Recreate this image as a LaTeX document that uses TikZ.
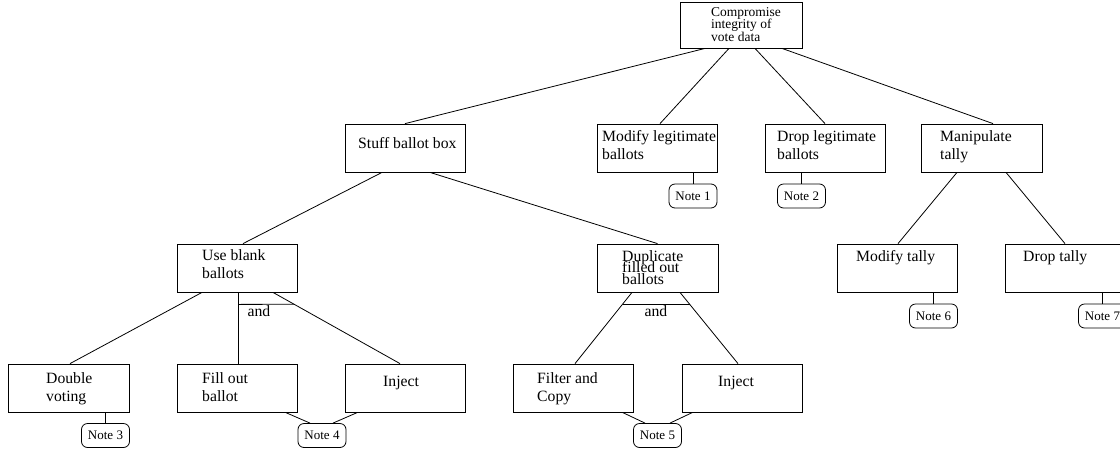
\documentclass[tikz,border=0pt]{standalone}
\usepackage{fontspec}
\setmainfont{Liberation Serif}
\usetikzlibrary{calc}
\AtBeginDocument{\lineskiplimit=-100pt\relax}
\begin{document}
\begin{tikzpicture}[x=1pt,y=-1pt,
 box/.style={draw, line width=0.8pt, minimum width=120pt, minimum height=48pt, inner sep=0pt},
 note/.style={draw, line width=0.8pt, rounded corners=6pt, minimum width=48pt, minimum height=24pt, inner sep=0pt, font=\fontsize{13}{15}\selectfont},
 lbl/.style={anchor=north west, inner sep=0pt, align=left, font=\fontsize{15.7}{18}\selectfont},
 one/.style={anchor=base west, inner sep=0pt, font=\fontsize{15.7}{18}\selectfont},
 tight/.style={font=\fontsize{15.7}{11.7}\selectfont},
 edge/.style={line width=0.8pt}]
\useasboundingbox (0,0) rectangle (1120,448);

% boxes
\node[box, minimum width=122pt, minimum height=46pt] (root) at (741,25) {};
\node[box] (stuff) at (405,148) {};
\node[box] (modleg) at (657,148) {};
\node[box] (dropleg) at (825,148) {};
\node[box, minimum width=121pt] (manip) at (981.5,148) {};
\node[box] (useblank) at (237,268) {};
\node[box, minimum width=121pt] (dup) at (657.5,268) {};
\node[box] (modtally) at (897,268) {};
\node[box] (droptally) at (1065,268) {};
\node[box, minimum width=121pt] (double) at (68.5,388) {};
\node[box] (fill) at (237,388) {};
\node[box] (inject1) at (405,388) {};
\node[box] (filter) at (573,388) {};
\node[box] (inject2) at (742,388) {};

% labels
\node[lbl, font=\fontsize{13.5}{12.5}\selectfont] (roott) at (711,5) {\rule{0pt}{11pt}Compromise\\integrity of\\vote data};
\node[one] (stufft) at (358,148) {Stuff ballot box};
\node[lbl] (modlegt) at (602,129) {\rule{0pt}{12pt}Modify legitimate\\ballots};
\node[lbl] (droplegt) at (777,129) {\rule{0pt}{12pt}Drop legitimate\\ballots};
\node[lbl] (manipt) at (940,129) {\rule{0pt}{12pt}Manipulate\\tally};
\node[lbl] (useblankt) at (202,248) {\rule{0pt}{12pt}Use blank\\ballots};
\node[lbl, tight] (dupt) at (622,249) {\rule{0pt}{12pt}Duplicate\\filled out\\ballots};
\node[one] (modtallyt) at (856,261) {Modify tally};
\node[one] (droptallyt) at (1023,261) {Drop tally};
\node[lbl] (doublet) at (46,371) {\rule{0pt}{12pt}Double\\voting};
\node[lbl] (fillt) at (202,371) {\rule{0pt}{12pt}Fill out\\ballot};
\node[one] (inject1t) at (383,386) {Inject};
\node[lbl] (filtert) at (537,371) {\rule{0pt}{12pt}Filter and\\Copy};
\node[one] (inject2t) at (718,386) {Inject};

% notes
\node[note] (note1) at (693,196) {Note 1};
\node[note] (note2) at (801.5,196) {Note 2};
\node[note] (note3) at (105.5,435.5) {Note 3};
\node[note] (note4) at (322,435.5) {Note 4};
\node[note] (note5) at (657.5,435.5) {Note 5};
\node[note] (note6) at (933.5,316) {Note 6};
\node[note] (note7) at (1102.5,316) {Note 7};

% tree connectors
\draw[edge] ([xshift=-36pt]root.south) -- (stuff.north);
\draw[edge] ([xshift=-12pt]root.south) -- ([xshift=3pt]modleg.north);
\draw[edge] ([xshift=14pt]root.south) -- (dropleg.north);
\draw[edge] ([xshift=41pt]root.south) -- ([xshift=11.5pt]manip.north);
\draw[edge] ([xshift=-23pt]stuff.south) -- ([xshift=6pt]useblank.north);
\draw[edge] ([xshift=25pt]stuff.south) -- (dup.north);
\draw[edge] ([xshift=-24.5pt]manip.south) -- ([xshift=1pt]modtally.north);
\draw[edge] ([xshift=24.5pt]manip.south) -- (droptally.north);

\coordinate (ubL) at ([xshift=-35pt]useblank.south);
\coordinate (ubM) at ([xshift=1pt]useblank.south);
\coordinate (ubR) at ([xshift=36pt]useblank.south);
\coordinate (injA) at ([xshift=-5pt]inject1.north);
\draw[edge] (ubL) -- ([xshift=1.5pt]double.north);
\draw[edge] (ubM) -- (ubM |- fill.north);
\draw[edge] (ubR) -- (injA);
\coordinate (a1L) at ($(ubM)+(0,12)$);
\coordinate (a1R) at ($(ubR)!0.1667!(injA)$);
\draw[edge] (a1L) -- (a1R);
\node[anchor=base, inner sep=0pt, font=\fontsize{15.7}{18}\selectfont] (and1) at (259,316) {and};

\coordinate (dL) at ([xshift=-25.5pt]dup.south);
\coordinate (dR) at ([xshift=22.5pt]dup.south);
\coordinate (filA) at ([xshift=2pt]filter.north);
\coordinate (injB) at ([xshift=-4pt]inject2.north);
\draw[edge] (dL) -- (filA);
\draw[edge] (dR) -- (injB);
\draw[edge] ($(dL)!0.1667!(filA)$) -- ($(dR)!0.1667!(injB)$);
\node[anchor=base, inner sep=0pt, font=\fontsize{15.7}{18}\selectfont] (and2) at (656,316) {and};

% note connectors
\draw[edge] (note1.north) -- (note1.north |- modleg.south);
\draw[edge] (note2.north) -- (note2.north |- dropleg.south);
\draw[edge] (note3.north) -- (note3.north |- double.south);
\draw[edge] (note6.north) -- (note6.north |- modtally.south);
\draw[edge] (note7.north) -- (note7.north |- droptally.south);
\draw[edge] ([xshift=-12pt]fill.south east) -- ([xshift=-12pt]note4.north);
\draw[edge] ([xshift=13pt]inject1.south west) -- ([xshift=11pt]note4.north);
\draw[edge] ([xshift=-11pt]filter.south east) -- ([xshift=-12.5pt]note5.north);
\draw[edge] ([xshift=11pt]inject2.south west) -- ([xshift=12.5pt]note5.north);
\end{tikzpicture}
\end{document}
